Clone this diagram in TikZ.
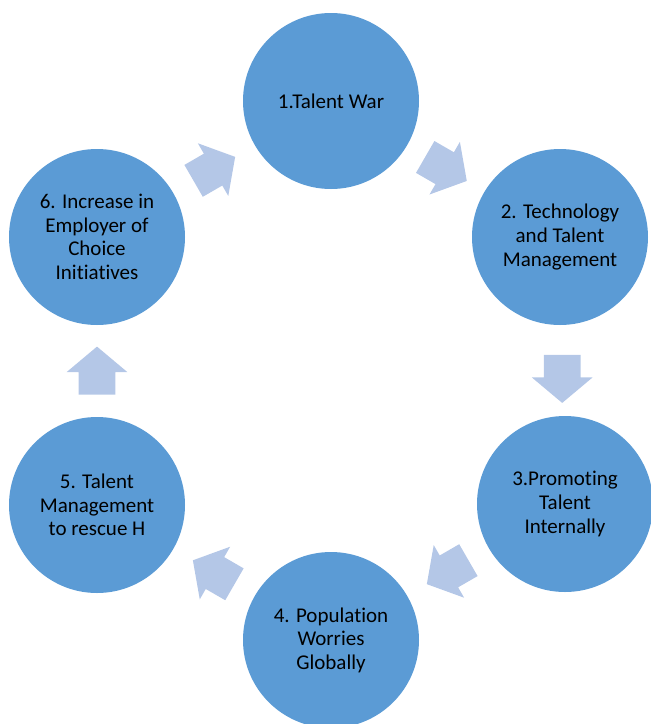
\documentclass[tikz,border=0pt]{standalone}
\usepackage{fontspec}
\setmainfont{Carlito}[Ligatures={NoCommon}]
\usepackage{tikz}
\usetikzlibrary{shapes,positioning,calc}
\definecolor{stageblue}{RGB}{91,155,213}
\definecolor{arrowblue}{RGB}{180,199,231}
\tikzstyle{stage} = [circle, minimum size=88pt, inner sep=0pt, fill=stageblue, text=black, align=center, font=\fontsize{10.5}{11.8}\selectfont]
\tikzstyle{cyclearrow} = [single arrow, fill=arrowblue, minimum height=24pt, inner xsep=0pt, inner ysep=9pt, single arrow head extend=6pt, single arrow tip angle=100, anchor=tail]

\begin{document}
\begin{tikzpicture}[x=0.5pt, y=-0.5pt]
    \useasboundingbox (0,0) rectangle (650,724);

    % Stages
    \node[stage] (war) at (331,101) {1.Talent War};
    \node[stage] (tech) at (560,237) {2. Technology\\and Talent\\Management};
    \node[stage] (promo) at (565,504) {3.Promoting\\Talent\\Internally};
    \node[stage] (pop) at (331,640) {4. Population\\Worries\\Globally};
    \node[stage] (rescue) at (97,505) {5. Talent\\Management\\to rescue H};
    \node[stage] (choice) at (97,237) {6. Increase in\\Employer of\\Choice\\Initiatives};

    % Arrows (tail placed half a length before the midpoint)
    \node[cyclearrow, rotate=-30] (a12) at ($($(war)!0.5!(tech)$)!12pt!(war)$) {};
    \node[cyclearrow, rotate=-90] (a23) at ($($(tech)!0.53!(promo)$)!12pt!(tech)$) {};
    \node[cyclearrow, rotate=-150] (a34) at ($($(promo)!0.5!(pop)$)!12pt!(promo)$) {};
    \node[cyclearrow, rotate=150] (a45) at ($($(pop)!0.5!(rescue)$)!12pt!(pop)$) {};
    \node[cyclearrow, rotate=90] (a56) at ($($(rescue)!0.5!(choice)$)!12pt!(rescue)$) {};
    \node[cyclearrow, rotate=30] (a61) at ($($(choice)!0.5!(war)$)!12pt!(choice)$) {};
\end{tikzpicture}
\end{document}
